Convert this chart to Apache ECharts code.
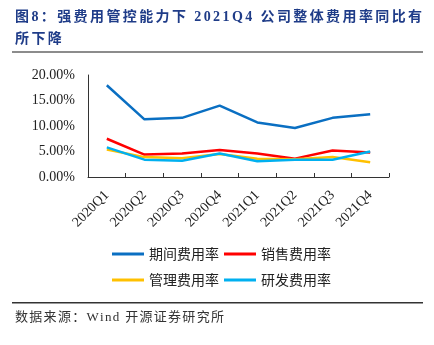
<!DOCTYPE html>
<html>
<head>
<meta charset="utf-8">
<script src="https://cdn.jsdelivr.net/npm/echarts@6/dist/echarts.min.js"></script>
<style>html,body{margin:0;padding:0;background:#fff;}#c{width:434px;height:345px;}</style>
</head>
<body>
<div id="c"></div>
<script>
const categories = ['2020Q1','2020Q2','2020Q3','2020Q4','2021Q1','2021Q2','2021Q3','2021Q4'];
const periodRate = [18.0, 11.3, 11.6, 14.0, 10.7, 9.6, 11.6, 12.3];
const salesRate  = [7.5, 4.4, 4.6, 5.3, 4.6, 3.6, 5.2, 4.8];
const adminRate  = [5.4, 3.9, 3.7, 4.5, 3.6, 3.5, 3.9, 2.9];
const rdRate     = [5.8, 3.4, 3.2, 4.6, 3.1, 3.4, 3.4, 5.0];
const seriesNames = ['期间费用率','销售费用率','管理费用率','研发费用率'];
const seriesColors = ['#0A6FC2','#FF0000','#FFC000','#00B0F0'];
const yTicks = [0, 5, 10, 15, 20];
const titleLine1 = '图8：强费用管控能力下 2021Q4 公司整体费用率同比有';
const titleLine2 = '所下降';
const sourceText = '数据来源：Wind 开源证券研究所';

const measureCtx = document.createElement('canvas').getContext('2d');
function isCJK(ch){ return ch.charCodeAt(0) > 0x2E80; }
function spacedText(str, x, y, size, weight, color, ls){
  measureCtx.font = weight + ' ' + size + 'px "Liberation Serif"';
  const els = [];
  let cx = x;
  for (const ch of str){
    const w = isCJK(ch) ? size : measureCtx.measureText(ch).width;
    if (ch !== ' '){
      els.push({type:'text', left: cx, top: y, silent:true,
        style:{text: ch, fill: color, font: weight + ' ' + size + 'px "Liberation Serif", "Noto Sans CJK SC"'}});
    }
    cx += w + ls;
  }
  return els;
}

const chart = echarts.init(document.getElementById('c'), null, {renderer:'canvas'});
const dataSets = [periodRate, salesRate, adminRate, rdRate];
const graphics = []
  .concat(spacedText(titleLine1, 15, 10, 14, 'bold', '#1F3C88', 2.4))
  .concat(spacedText(titleLine2, 15, 32, 14, 'bold', '#1F3C88', 2.4))
  .concat(spacedText(sourceText, 15, 311, 13, 'normal', '#333', 1.3));
graphics.push({type:'rect', shape:{x:12,y:51,width:411,height:2}, style:{fill:'#8c8c8c'}, silent:true});
graphics.push({type:'rect', shape:{x:12,y:302,width:411,height:1.5}, style:{fill:'#333'}, silent:true});

chart.setOption({
  animation:false,
  grid:{left:88, right:45, top:75, bottom:168},
  graphic: graphics,
  legend:[
    {data:[seriesNames[0], seriesNames[1]], left:107, top:242, icon:'rect', itemWidth:32, itemHeight:3, itemGap:5,
     textStyle:{fontFamily:'"Noto Sans CJK SC"', fontSize:14, color:'#222'}},
    {data:[seriesNames[2], seriesNames[3]], left:107, top:268, icon:'rect', itemWidth:32, itemHeight:3, itemGap:5,
     textStyle:{fontFamily:'"Noto Sans CJK SC"', fontSize:14, color:'#222'}}
  ],
  xAxis:{
    type:'category', data:categories, boundaryGap:true,
    axisLine:{lineStyle:{color:'#333', width:1}},
    axisTick:{show:true, inside:true, length:4, lineStyle:{color:'#333'}},
    axisLabel:{interval:0, rotate:45, margin:16, fontFamily:'"Liberation Serif"', fontSize:14, color:'#222'}
  },
  yAxis:{
    type:'value', min:yTicks[0], max:yTicks[yTicks.length-1], interval:yTicks[1]-yTicks[0],
    axisLine:{show:true, lineStyle:{color:'#333', width:1}},
    axisTick:{show:false},
    splitLine:{show:false},
    axisLabel:{margin:13, fontFamily:'"Liberation Serif"', fontSize:14, color:'#222', formatter:v=>v.toFixed(2)+'%'}
  },
  series: seriesNames.map((n,i)=>({
    name:n, type:'line', data:dataSets[i], symbol:'none', smooth:false,
    lineStyle:{width:2.5, color:seriesColors[i]}, itemStyle:{color:seriesColors[i]}
  }))
});
</script>
</body>
</html>
